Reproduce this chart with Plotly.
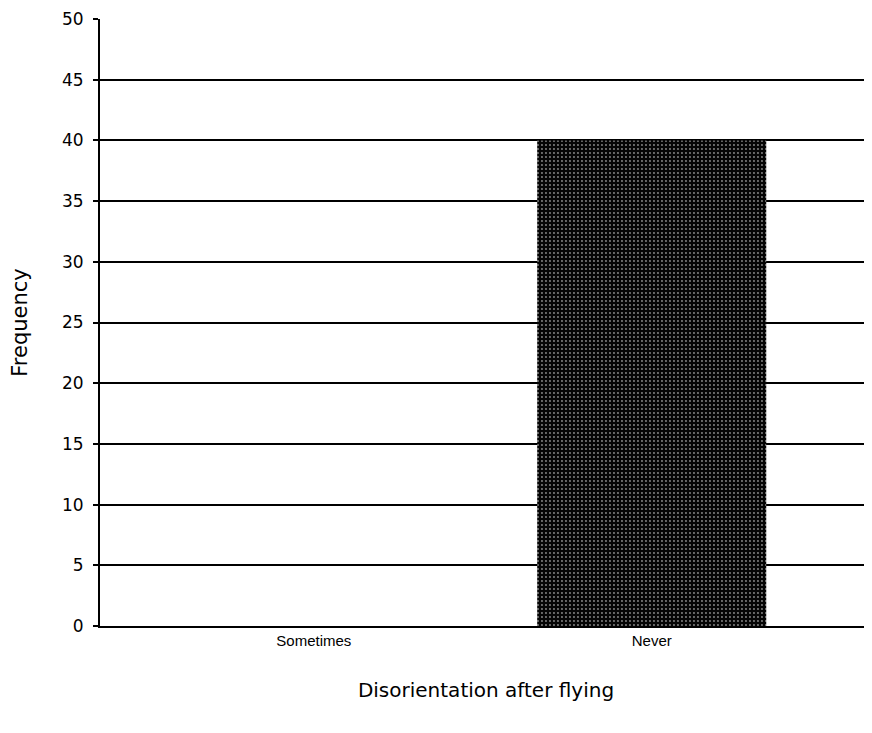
import plotly.graph_objects as go

categories = ["Sometimes", "Never"]
frequency = [0, 40]
y_ticks = [0, 5, 10, 15, 20, 25, 30, 35, 40, 45, 50]

fig = go.Figure()

fig.add_trace(
    go.Bar(
        x=categories,
        y=frequency,
        width=0.678,
        marker={
            "color": "#111111",
            "line": {"width": 0},
            "pattern": {
                "shape": ".",
                "fgcolor": "#8a8a8a",
                "bgcolor": "#050505",
                "size": 4,
                "solidity": 0.18,
                "fillmode": "replace",
            },
        },
        showlegend=False,
    )
)

# page body has an 8px default margin, so size/margins are shifted to compensate
fig.update_layout(
    width=864,
    height=717,
    template="simple_white",
    paper_bgcolor="white",
    plot_bgcolor="white",
    margin={"l": 92, "r": 0, "t": 11, "b": 99, "autoexpand": False},
    font={"family": "Arial, Liberation Sans, sans-serif", "color": "black"},
    xaxis={
        "type": "category",
        "range": [-0.633, 1.652],
        "automargin": True,
        "showline": True,
        "linecolor": "black",
        "linewidth": 2,
        "ticks": "",
        "tickfont": {"size": 15},
        "title": {
            "text": "Disorientation after flying",
            "font": {"size": 20, "family": "DejaVu Sans"},
            "standoff": 35,
        },
    },
    yaxis={
        "range": [0, 50],
        "tickvals": y_ticks,
        "automargin": True,
        "showline": True,
        "linecolor": "black",
        "linewidth": 2,
        "ticks": "outside",
        "ticklen": 5,
        "tickwidth": 2,
        "tickcolor": "black",
        "ticklabelstandoff": 6,
        "showgrid": True,
        "gridcolor": "black",
        "gridwidth": 2,
        "tickfont": {"size": 17, "family": "DejaVu Sans"},
        "title": {
            "text": "Frequency",
            "font": {"size": 21, "family": "DejaVu Sans"},
            "standoff": 30,
        },
    },
)

fig.write_html("out.html")
